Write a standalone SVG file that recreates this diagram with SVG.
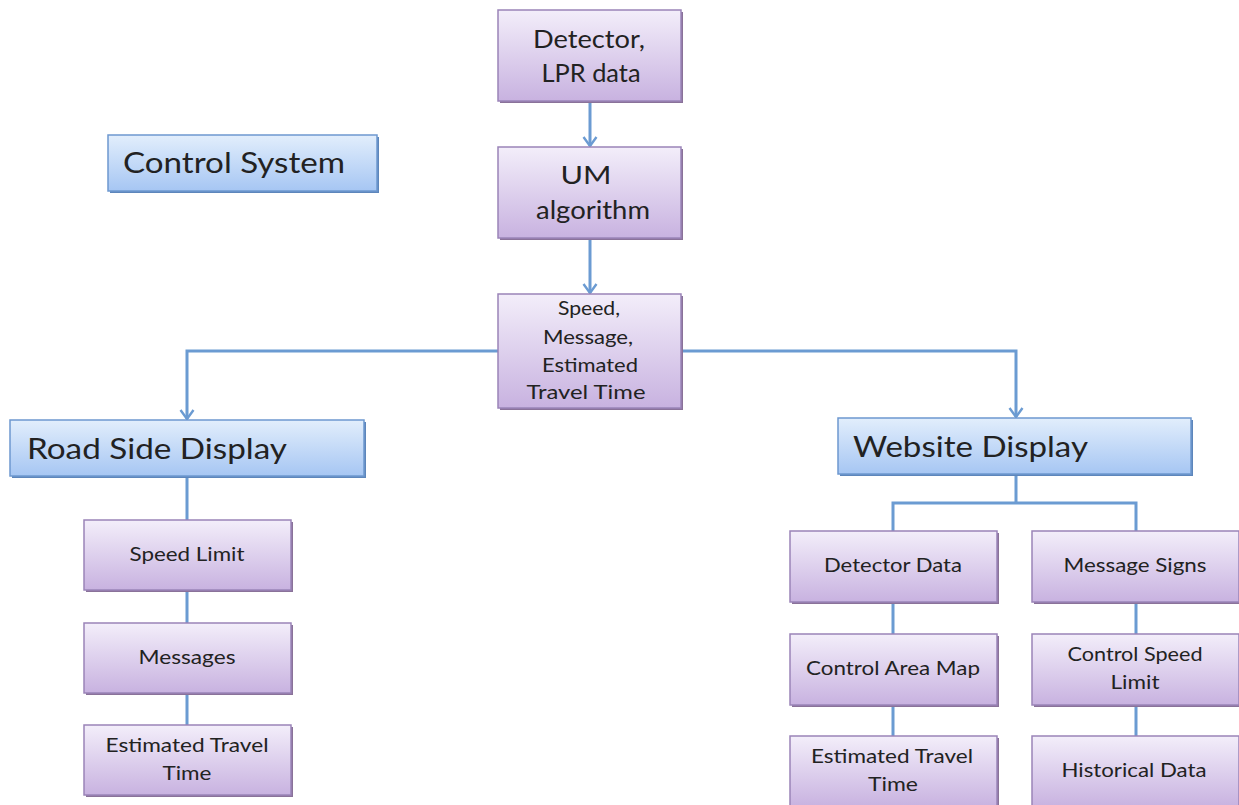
<svg xmlns="http://www.w3.org/2000/svg" width="1239" height="805" viewBox="0 0 1239 805">
<defs>
<linearGradient id="gp" x1="0" y1="0" x2="0" y2="1">
<stop offset="0" stop-color="#f3eefa"/><stop offset="1" stop-color="#c8b2e0"/>
</linearGradient>
<linearGradient id="gb" x1="0" y1="0" x2="0" y2="1">
<stop offset="0" stop-color="#e2eefc"/><stop offset="1" stop-color="#a6c6f3"/>
</linearGradient>
<marker id="ah" viewBox="0 0 14 16" refX="12" refY="8" markerWidth="14" markerHeight="16" markerUnits="userSpaceOnUse" orient="auto">
<path d="M3,1.5 L12,8 L3,14.5" fill="none" stroke="#6b9bd2" stroke-width="2.4"/>
</marker>
</defs>
<style>
.p{fill:url(#gp);stroke:#9a84b8;stroke-width:1.5}
.b{fill:url(#gb);stroke:#6d98cf;stroke-width:1.5}
.ps{fill:#8a7299}
.bs{fill:#5d86bb}
.c{fill:none;stroke:#6b9bd2;stroke-width:3}
text{font-family:Lato,"Liberation Sans",sans-serif;fill:#222}
.m{text-anchor:middle}
.s{font-size:19px}
.t{font-size:20px}
.L{font-size:28px}
.M{font-size:25px}
</style>
<rect width="1239" height="805" fill="#fff"/>
<g id="connectors">
<path class="c" d="M590,101 V146" marker-end="url(#ah)"/>
<path class="c" d="M590,238 V293" marker-end="url(#ah)"/>
<path class="c" d="M498,351 H187 V419" marker-end="url(#ah)"/>
<path class="c" d="M681,351 H1016 V417" marker-end="url(#ah)"/>
<path class="c" d="M187,476 V520 M187,590 V623 M187,693 V725"/>
<path class="c" d="M1016,474 V503 M893,531 V503 H1136 V531"/>
<path class="c" d="M893,602 V634 M893,705 V736 M1136,602 V634 M1136,705 V736"/>
</g>
<g id="detector">
<rect class="ps" x="500" y="12" width="183" height="91"/>
<rect class="p" x="498" y="10" width="183" height="91"/>
<text class="m M" x="589" y="48" textLength="112" lengthAdjust="spacingAndGlyphs">Detector,</text>
<text class="m M" x="591" y="82" textLength="99" lengthAdjust="spacingAndGlyphs">LPR data</text>
</g>
<g id="um">
<rect class="ps" x="500" y="149" width="183" height="91"/>
<rect class="p" x="498" y="147" width="183" height="91"/>
<text class="m M" x="586" y="184" textLength="51" lengthAdjust="spacingAndGlyphs">UM</text>
<text class="m M" x="593" y="219" textLength="114" lengthAdjust="spacingAndGlyphs">algorithm</text>
</g>
<g id="speed">
<rect class="ps" x="500" y="296" width="183" height="114"/>
<rect class="p" x="498" y="294" width="183" height="114"/>
<text class="m t" x="589" y="315" textLength="62" lengthAdjust="spacingAndGlyphs">Speed,</text>
<text class="m t" x="588" y="344" textLength="90" lengthAdjust="spacingAndGlyphs">Message,</text>
<text class="m t" x="590" y="372" textLength="96" lengthAdjust="spacingAndGlyphs">Estimated</text>
<text class="m t" x="586" y="399" textLength="119" lengthAdjust="spacingAndGlyphs">Travel Time</text>
</g>
<g id="control-system">
<rect class="bs" x="110" y="137" width="269" height="56"/>
<rect class="b" x="108" y="135" width="269" height="56"/>
<text class="L" x="123" y="173" textLength="222" lengthAdjust="spacingAndGlyphs">Control System</text>
</g>
<g id="road-side">
<rect class="bs" x="12" y="422" width="354" height="56"/>
<rect class="b" x="10" y="420" width="354" height="56"/>
<text class="L" x="27" y="459" textLength="260" lengthAdjust="spacingAndGlyphs">Road Side Display</text>
</g>
<g id="website">
<rect class="bs" x="840" y="420" width="353" height="56"/>
<rect class="b" x="838" y="418" width="353" height="56"/>
<text class="L" x="853" y="457" textLength="235" lengthAdjust="spacingAndGlyphs">Website Display</text>
</g>
<g id="speed-limit">
<rect class="ps" x="86" y="522" width="207" height="70"/>
<rect class="p" x="84" y="520" width="207" height="70"/>
<text class="m s" x="187" y="561" textLength="115" lengthAdjust="spacingAndGlyphs">Speed Limit</text>
</g>
<g id="messages">
<rect class="ps" x="86" y="625" width="207" height="70"/>
<rect class="p" x="84" y="623" width="207" height="70"/>
<text class="m s" x="187" y="664" textLength="97" lengthAdjust="spacingAndGlyphs">Messages</text>
</g>
<g id="est-left">
<rect class="ps" x="86" y="727" width="207" height="70"/>
<rect class="p" x="84" y="725" width="207" height="70"/>
<text class="m s" x="187" y="752" textLength="163" lengthAdjust="spacingAndGlyphs">Estimated Travel</text>
<text class="m s" x="187" y="780" textLength="49" lengthAdjust="spacingAndGlyphs">Time</text>
</g>
<g id="detector-data">
<rect class="ps" x="792" y="533" width="207" height="71"/>
<rect class="p" x="790" y="531" width="207" height="71"/>
<text class="m s" x="893" y="572" textLength="138" lengthAdjust="spacingAndGlyphs">Detector Data</text>
</g>
<g id="message-signs">
<rect class="ps" x="1034" y="533" width="207" height="71"/>
<rect class="p" x="1032" y="531" width="207" height="71"/>
<text class="m s" x="1135" y="572" textLength="143" lengthAdjust="spacingAndGlyphs">Message Signs</text>
</g>
<g id="control-area-map">
<rect class="ps" x="792" y="636" width="207" height="71"/>
<rect class="p" x="790" y="634" width="207" height="71"/>
<text class="m s" x="893" y="675" textLength="174" lengthAdjust="spacingAndGlyphs">Control Area Map</text>
</g>
<g id="control-speed-limit">
<rect class="ps" x="1034" y="636" width="207" height="71"/>
<rect class="p" x="1032" y="634" width="207" height="71"/>
<text class="m s" x="1135" y="661" textLength="135" lengthAdjust="spacingAndGlyphs">Control Speed</text>
<text class="m s" x="1135" y="689" textLength="49" lengthAdjust="spacingAndGlyphs">Limit</text>
</g>
<g id="est-right">
<rect class="ps" x="792" y="738" width="207" height="71"/>
<rect class="p" x="790" y="736" width="207" height="71"/>
<text class="m s" x="892" y="763" textLength="162" lengthAdjust="spacingAndGlyphs">Estimated Travel</text>
<text class="m s" x="893" y="791" textLength="50" lengthAdjust="spacingAndGlyphs">Time</text>
</g>
<g id="historical">
<rect class="ps" x="1034" y="738" width="207" height="71"/>
<rect class="p" x="1032" y="736" width="207" height="71"/>
<text class="m s" x="1134" y="777" textLength="145" lengthAdjust="spacingAndGlyphs">Historical Data</text>
</g>
</svg>
